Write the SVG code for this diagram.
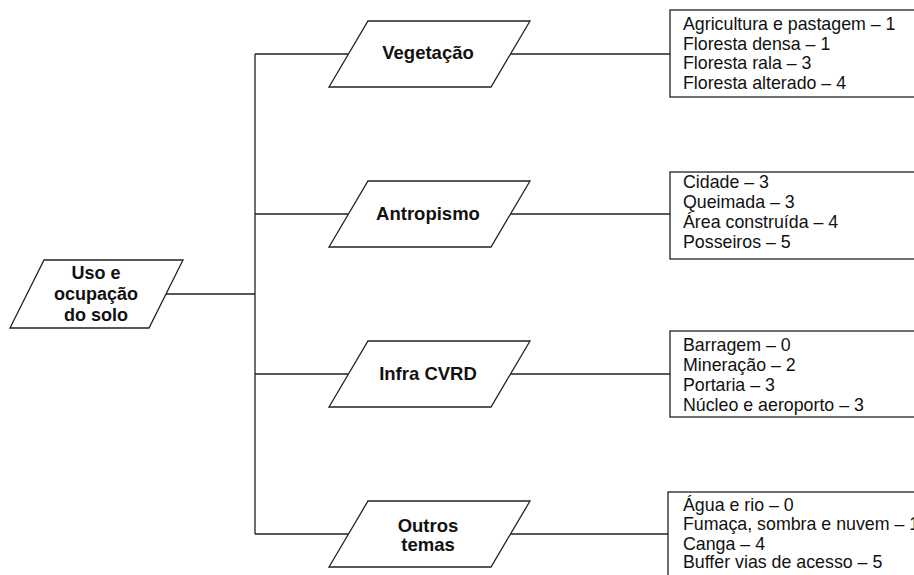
<svg xmlns="http://www.w3.org/2000/svg" width="914" height="575" viewBox="0 0 914 575">
<style>
.shape{fill:#fff;stroke:#222;stroke-width:1.3}
.conn{fill:none;stroke:#222;stroke-width:1.3}
.lbl{font-family:"Liberation Sans",Arial,sans-serif;font-size:18.5px;font-weight:bold;fill:#111;text-anchor:middle}
.root{font-size:18px}
.item{font-family:"Liberation Sans",Arial,sans-serif;font-size:17.8px;fill:#111}
</style>
<rect width="914" height="575" fill="#fff"/>
<g id="connectors">
<path class="conn" d="M166,294 H255 M255,54 V534 M255,54 H349 M255,214 H349 M255,374 H349 M255,534 H349 M510,54 H670 M510,214 H670 M510,374 H670 M510,534 H668"/>
</g>
<g id="root">
<polygon class="shape" points="44,260 183,260 149,328 10,328"/>
<text class="lbl root" x="96" y="279">Uso e</text>
<text class="lbl root" x="96" y="300">ocupação</text>
<text class="lbl root" x="96" y="321">do solo</text>
</g>
<g id="vegetacao">
<polygon class="shape" points="368,21 530,21 491,87 329,87"/>
<text class="lbl" x="428" y="59">Vegetação</text>
</g>
<g id="antropismo">
<polygon class="shape" points="368,181 530,181 491,247 329,247"/>
<text class="lbl" x="428" y="220">Antropismo</text>
</g>
<g id="infra">
<polygon class="shape" points="368,341 530,341 491,407 329,407"/>
<text class="lbl" x="428" y="380">Infra CVRD</text>
</g>
<g id="outros">
<polygon class="shape" points="368,501 530,501 491,567 329,567"/>
<text class="lbl" x="428" y="532">Outros</text>
<text class="lbl" x="428" y="551">temas</text>
</g>
<g id="box-vegetacao">
<rect class="shape" x="670" y="10" width="260" height="87"/>
<text class="item" x="683" y="30">Agricultura e pastagem – 1</text>
<text class="item" x="683" y="49.5">Floresta densa – 1</text>
<text class="item" x="683" y="69">Floresta rala – 3</text>
<text class="item" x="683" y="88.5">Floresta alterado – 4</text>
</g>
<g id="box-antropismo">
<rect class="shape" x="670" y="172" width="260" height="87"/>
<text class="item" x="683" y="188">Cidade – 3</text>
<text class="item" x="683" y="208">Queimada – 3</text>
<text class="item" x="683" y="228">Área construída – 4</text>
<text class="item" x="683" y="248">Posseiros – 5</text>
</g>
<g id="box-infra">
<rect class="shape" x="670" y="331" width="260" height="86"/>
<text class="item" x="683" y="351">Barragem – 0</text>
<text class="item" x="683" y="371">Mineração – 2</text>
<text class="item" x="683" y="391">Portaria – 3</text>
<text class="item" x="683" y="411">Núcleo e aeroporto – 3</text>
</g>
<g id="box-outros">
<rect class="shape" x="668" y="492" width="262" height="100"/>
<text class="item" x="683" y="511">Água e rio – 0</text>
<text class="item" x="683" y="530">Fumaça, sombra e nuvem – 1</text>
<text class="item" x="683" y="550">Canga – 4</text>
<text class="item" x="683" y="568">Buffer vias de acesso – 5</text>
</g>
</svg>
